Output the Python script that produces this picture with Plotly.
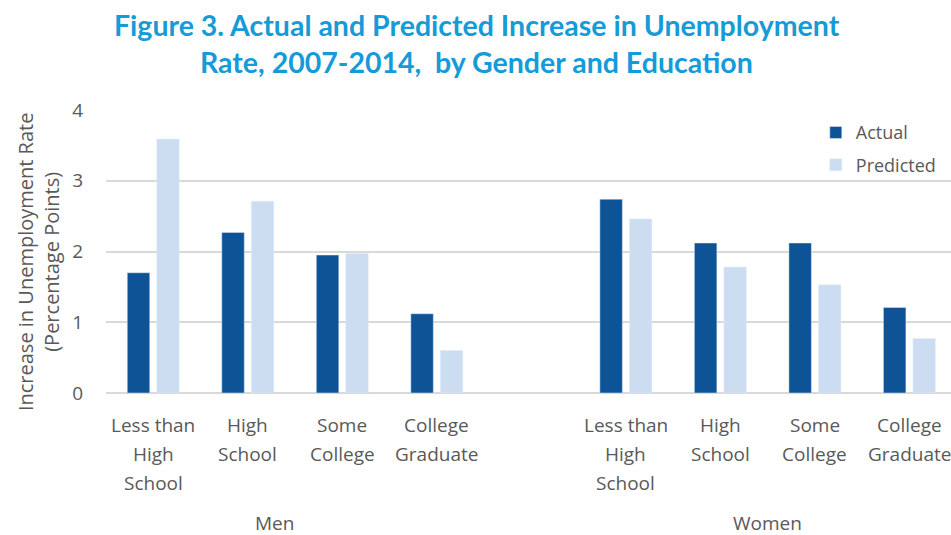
import plotly.graph_objects as go

categories = ["Less than<br>High<br>School", "High<br>School", "Some<br>College", "College<br>Graduate"]
groups = ["Men", "Women"]
men_actual = [1.70, 2.27, 1.95, 1.12]
men_predicted = [3.59, 2.71, 1.97, 0.60]
women_actual = [2.74, 2.12, 2.12, 1.21]
women_predicted = [2.46, 1.78, 1.53, 0.77]
y_ticks = [0, 1, 2, 3, 4]
title_lines = ["Figure 3. Actual and Predicted Increase in Unemployment",
               "Rate, 2007-2014,  by Gender and Education"]
y_title = "Increase in Unemployment Rate<br>(Percentage Points)"

# positions: 4 men slots, one blank slot, 4 women slots
x_men = list(range(4))
x_women = [i + 5 for i in range(4)]
x_all = x_men + x_women
actual = men_actual + women_actual
predicted = men_predicted + women_predicted

DARK = "#0E5396"
LIGHT = "#CCDDF2"
GRAY = "#595959"
FONT = "Open Sans"

fig = go.Figure()
fig.add_trace(go.Bar(x=x_all, y=actual, name="Actual", legendgroup="a",
                     marker=dict(color=DARK)))
fig.add_trace(go.Bar(x=x_all, y=predicted, name="Predicted", legendgroup="p",
                     marker=dict(color=LIGHT)))

fig.update_layout(
    width=951, height=535,
    margin=dict(l=106, r=0, t=110, b=142),
    paper_bgcolor="white", plot_bgcolor="white",
    barmode="group", bargap=0.376, bargroupgap=0.237,
    font=dict(family=FONT, color=GRAY, size=18),
    legend=dict(
        x=0.840, y=0.985, xanchor="left", yanchor="top",
        font=dict(size=18, color=GRAY), bgcolor="rgba(0,0,0,0)",
        itemwidth=30, tracegroupgap=6, traceorder="grouped",
    ),
    showlegend=True,
)
fig.update_xaxes(
    tickmode="array", tickvals=x_all, ticktext=[""] * len(x_all),
    range=[-0.5, 8.44], showgrid=False, zeroline=False, showline=False, ticks="",
)
fig.update_yaxes(
    range=[0, 4], tickvals=y_ticks, showgrid=True, gridcolor="#D9D9D9", gridwidth=1.5,
    zeroline=True, zerolinecolor="#D9D9D9", zerolinewidth=1.5,
    tickfont=dict(size=19, color=GRAY), ticklabelstandoff=22,
)

# y-axis title
fig.add_annotation(x=-0.0805, y=0.466, xref="paper", yref="paper", text=y_title,
                   showarrow=False, textangle=-90, xanchor="center", yanchor="middle",
                   font=dict(size=20, color=GRAY))

# title lines
for j, line in enumerate(title_lines):
    fig.add_annotation(x=0.439, y=1, xref="paper", yref="paper", text=f"<b>{line}</b>",
                       showarrow=False, xanchor="center", yanchor="middle",
                       yshift=(102 - 17) - 37 * j,
                       font=dict(family="Lato", size=28.5, color="#159BD8"))

# category labels, one annotation per line for Excel-like line spacing
for i, xv in enumerate(x_all):
    lines = categories[i % 4].split("<br>")
    for j, line in enumerate(lines):
        fig.add_annotation(x=xv, y=0, xref="x", yref="paper", text=line,
                           showarrow=False, xanchor="center", yanchor="middle",
                           yshift=-32 - 29 * j, font=dict(size=19, color=GRAY))

fig.add_annotation(x=1.28, y=0, xref="x", yref="paper", text=groups[0],
                   showarrow=False, font=dict(size=19, color=GRAY), yanchor="middle", yshift=-130)
fig.add_annotation(x=6.5, y=0, xref="x", yref="paper", text=groups[1],
                   showarrow=False, font=dict(size=19, color=GRAY), yanchor="middle", yshift=-130)

fig.write_html(
    "out.html",
    config={"displayModeBar": False},
    post_script="document.body.style.margin='0';document.body.style.overflow='hidden';",
)
